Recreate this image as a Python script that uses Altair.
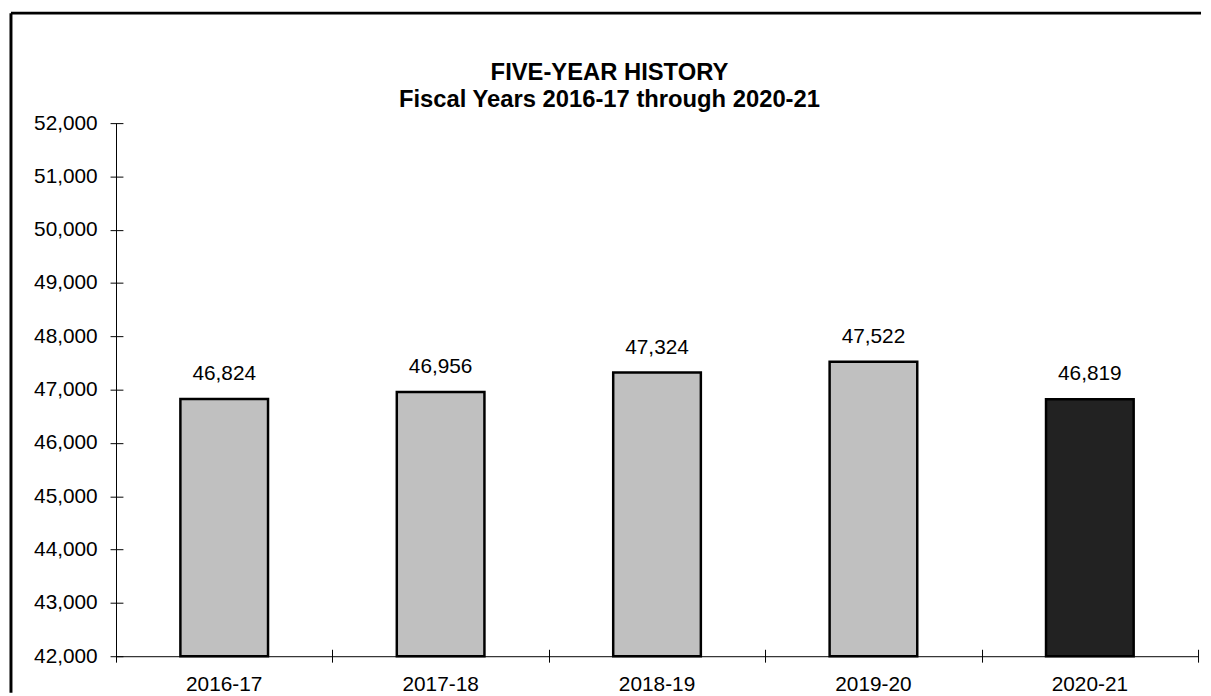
import altair as alt
import pandas as pd

years = ["2016-17", "2017-18", "2018-19", "2019-20", "2020-21"]
values = [46824, 46956, 47324, 47522, 46819]
fills = ["#c0c0c0", "#c0c0c0", "#c0c0c0", "#c0c0c0", "#222222"]
y_ticks = [42000, 43000, 44000, 45000, 46000, 47000, 48000, 49000, 50000, 51000, 52000]
title_lines = ["FIVE-YEAR HISTORY", "Fiscal Years 2016-17 through 2020-21"]

FONT = "Liberation Sans"
FS = 21
W, H = 1092, 538

df = pd.DataFrame({"year": years, "value": values, "fill": fills})

xscale = alt.Scale(domain=years, paddingInner=0, paddingOuter=0)
yscale = alt.Scale(domain=[42000, 52000], nice=False, zero=False)

bars = alt.Chart(df).mark_bar(
    width=alt.RelativeBandSize(0.405), stroke="black", strokeWidth=2.5
).encode(
    x=alt.X("year:N", scale=xscale, sort=years, title=None,
            axis=alt.Axis(orient="bottom", domain=True, domainColor="black", domainWidth=1,
                          ticks=False, tickSize=0, labels=True, labelAngle=0,
                          labelFont=FONT, labelFontSize=FS, labelColor="black",
                          labelPadding=18, grid=False)),
    y=alt.Y("value:Q", scale=yscale, title=None,
            axis=alt.Axis(orient="left", domain=True, domainColor="black", domainWidth=1,
                          ticks=False, tickSize=0, values=y_ticks, format=",d",
                          labelFont=FONT, labelFontSize=FS, labelColor="black",
                          labelPadding=19, grid=False)),
    y2=alt.datum(42000),
    fill=alt.Fill("fill:N", scale=None, legend=None),
)

labels = alt.Chart(df).mark_text(
    baseline="alphabetic", dy=-19, font=FONT, fontSize=FS, color="black"
).encode(
    x=alt.X("year:N", scale=xscale, sort=years, title=None,
            axis=alt.Axis(orient="bottom", domain=False, labels=False, ticks=True,
                          tickSize=13, tickColor="black", tickWidth=1, offset=-7,
                          tickBand="extent", grid=False)),
    y=alt.Y("value:Q", scale=yscale, title=None,
            axis=alt.Axis(orient="left", domain=False, labels=False, ticks=True,
                          tickSize=13, tickColor="black", tickWidth=1, offset=-7,
                          values=y_ticks, grid=False)),
    text=alt.Text("value:Q", format=",d"),
)

one = pd.DataFrame({"k": [0]})
top_rule = alt.Chart(one).mark_rule(color="black", strokeWidth=3).encode(
    x=alt.value(-106), x2=alt.value(1095), y=alt.value(-111)
)
left_rule = alt.Chart(one).mark_rule(color="black", strokeWidth=3).encode(
    x=alt.value(-106), y=alt.value(-111), y2=alt.value(575)
)
title1 = alt.Chart(one).mark_text(
    font=FONT, fontSize=24, fontWeight="bold", color="black", align="center", baseline="middle"
).encode(x=alt.value(498), y=alt.value(-51), text=alt.value(title_lines[0]))
title2 = alt.Chart(one).mark_text(
    font=FONT, fontSize=24, fontWeight="bold", color="black", align="center", baseline="middle"
).encode(x=alt.value(498), y=alt.value(-23), text=alt.value(title_lines[1]))

chart = alt.layer(bars, labels, top_rule, left_rule, title1, title2).resolve_axis(
    x="independent", y="independent"
).properties(
    width=W, height=H,
    padding={"left": 1, "top": 0, "right": 0, "bottom": 0},
    background="white",
).configure_view(strokeWidth=0, stroke="transparent")

chart.save("out.html", embed_options={"renderer": "svg", "actions": False})
